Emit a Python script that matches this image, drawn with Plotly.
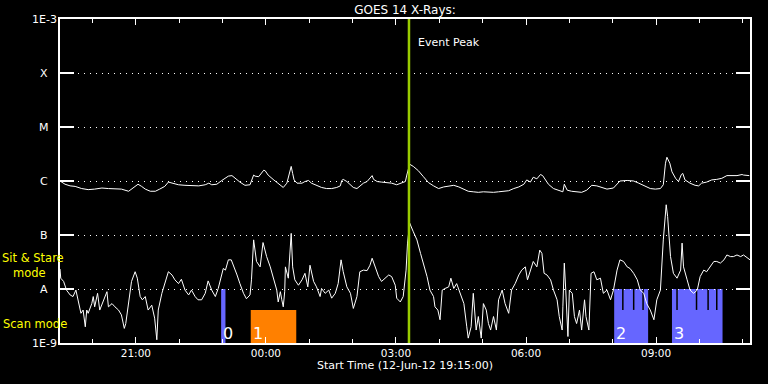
import numpy as np
import pandas as pd
import plotly.graph_objects as go

# ---------------- data ----------------
start_time = "2012-06-12 19:15"
end_time = "2012-06-13 11:10"
event_peak = "2012-06-13 03:18"

# GOES long channel (1-8 A): minutes after start, log10 flux
long_minutes = [0, 7, 14, 21, 30, 39, 48, 58, 67, 76, 85, 95, 100, 103, 108, 113, 118, 125, 132, 138,
                145, 150, 155, 164, 173, 182, 192, 201, 206, 210, 217, 224, 228, 233, 238, 242, 249, 256,
                263, 268, 270, 275, 278, 282, 284, 288, 295, 302, 309, 314, 316, 318, 320, 322, 324, 328,
                335, 339, 344, 348, 355, 362, 369, 376, 383, 388, 390, 392, 397, 402, 406, 411, 415, 420,
                425, 429, 432, 434, 439, 445, 452, 459, 466, 473, 478, 480, 482, 484, 489, 496, 503, 510,
                517, 524, 531, 538, 545, 552, 558, 565, 572, 579, 586, 593, 600, 607, 614, 621, 628, 635,
                642, 646, 651, 655, 660, 665, 668, 672, 676, 683, 690, 696, 698, 702, 708, 715, 722, 729,
                736, 743, 750, 757, 766, 773, 775, 785, 794, 801, 808, 817, 824, 831, 835, 838, 840, 844,
                847, 852, 856, 860, 862, 865, 872, 879, 884, 888, 895, 902, 909, 916, 923, 930, 937, 944,
                946, 954]
long_logflux = [-6.00, -6.06, -6.09, -6.10, -6.14, -6.16, -6.15, -6.13, -6.14, -6.14, -6.15, -6.19, -6.14,
                -6.12, -6.06, -6.10, -6.15, -6.19, -6.19, -6.15, -6.10, -6.02, -6.04, -6.07, -6.08, -6.09,
                -6.09, -6.07, -6.04, -6.07, -6.06, -5.99, -5.96, -5.91, -5.90, -5.95, -6.02, -6.08, -6.07,
                -5.89, -5.91, -5.92, -5.86, -5.80, -5.81, -5.89, -5.97, -6.04, -6.12, -6.04, -5.95, -5.86,
                -5.73, -5.86, -5.98, -6.04, -6.04, -6.01, -5.99, -6.04, -6.08, -6.12, -6.14, -6.14, -6.12,
                -6.09, -5.99, -5.97, -6.01, -6.07, -6.12, -6.14, -6.10, -6.04, -6.01, -5.95, -5.90, -5.97,
                -6.01, -6.02, -6.03, -6.04, -6.07, -6.04, -6.01, -5.89, -5.81, -5.69, -5.73, -5.81, -5.92,
                -6.03, -6.09, -6.14, -6.11, -6.09, -6.08, -6.11, -6.15, -6.19, -6.20, -6.21, -6.20, -6.21,
                -6.21, -6.20, -6.19, -6.18, -6.14, -6.11, -6.06, -5.98, -6.02, -5.93, -5.96, -5.88, -5.90,
                -5.98, -6.06, -6.14, -6.18, -6.20, -6.06, -6.17, -6.19, -6.20, -6.21, -6.17, -6.08, -6.09,
                -6.12, -6.15, -6.13, -6.04, -6.00, -5.99, -6.00, -6.04, -6.09, -6.14, -6.15, -6.14, -6.07,
                -5.67, -5.56, -5.67, -5.83, -5.95, -6.01, -5.88, -5.86, -5.98, -6.04, -6.08, -6.09, -6.04,
                -6.02, -5.98, -5.97, -5.95, -5.90, -5.90, -5.90, -5.88, -5.89, -5.90]

# GOES short channel (0.5-4 A): minutes after start, log10 flux
short_minutes = [0, 1, 5, 9, 14, 18, 22, 25, 29, 32, 35, 37, 39, 44, 46, 48, 52, 55, 60, 65, 67, 72, 76,
                 81, 85, 89, 91, 95, 99, 104, 107, 111, 114, 118, 122, 127, 131, 134, 136, 141, 145, 150,
                 155, 159, 164, 168, 173, 178, 182, 187, 191, 196, 201, 205, 210, 215, 219, 223, 226, 229,
                 233, 237, 240, 245, 249, 254, 258, 263, 265, 268, 272, 277, 281, 286, 291, 295, 300, 302,
                 305, 307, 309, 311, 312, 316, 318, 320, 322, 325, 330, 335, 339, 343, 346, 351, 355, 360,
                 362, 367, 372, 376, 381, 385, 389, 392, 397, 402, 406, 411, 415, 420, 425, 429, 432, 436,
                 441, 445, 450, 455, 459, 464, 466, 471, 475, 479, 481, 484, 489, 494, 499, 503, 508, 512,
                 517, 519, 523, 526, 529, 533, 538, 541, 545, 549, 554, 559, 563, 565, 569, 572, 576, 579,
                 583, 586, 590, 593, 596, 600, 604, 607, 612, 616, 621, 625, 630, 635, 639, 644, 647, 651,
                 655, 660, 664, 667, 670, 674, 679, 683, 688, 691, 695, 696, 698, 700, 703, 705, 709, 712,
                 715, 719, 722, 726, 728, 732, 735, 739, 743, 748, 752, 757, 762, 766, 771, 775, 780, 785,
                 789, 794, 799, 803, 808, 812, 817, 822, 826, 831, 835, 839, 841, 845, 849, 854, 859, 861,
                 863, 868, 872, 877, 882, 886, 891, 895, 900, 905, 909, 914, 919, 923, 928, 932, 937, 942,
                 946, 951, 955]
short_logflux = [-7.63, -7.80, -7.86, -8.02, -8.11, -8.14, -8.02, -8.20, -8.45, -8.39, -8.70, -8.39, -8.45,
                 -8.27, -8.14, -8.33, -8.08, -8.39, -8.20, -8.05, -8.33, -8.27, -8.33, -8.39, -8.48, -8.73,
                 -8.64, -8.20, -7.86, -7.68, -7.80, -8.14, -8.20, -8.14, -8.39, -8.30, -8.54, -8.94, -8.39,
                 -8.08, -7.90, -7.68, -7.74, -7.83, -7.90, -7.82, -8.02, -8.11, -8.02, -8.14, -8.20, -8.20,
                 -8.08, -7.85, -8.02, -8.14, -7.99, -7.77, -7.62, -7.65, -7.46, -7.46, -7.56, -7.74, -7.90,
                 -8.08, -8.18, -8.11, -7.83, -7.09, -7.49, -7.59, -7.14, -7.40, -7.59, -7.80, -8.02, -8.24,
                 -8.05, -8.20, -8.33, -8.05, -7.59, -7.80, -7.28, -6.97, -7.59, -7.83, -7.93, -7.83, -7.71,
                 -7.96, -7.56, -7.86, -7.96, -8.14, -7.99, -8.08, -8.02, -8.17, -8.08, -7.90, -7.46, -7.68,
                 -7.96, -8.08, -8.36, -8.14, -7.68, -7.65, -7.66, -7.56, -7.43, -7.59, -7.77, -7.86, -7.80,
                 -7.74, -7.77, -7.93, -8.17, -8.24, -8.14, -7.65, -7.15, -6.78, -6.94, -7.09, -7.34, -7.52,
                 -7.77, -8.02, -8.14, -8.33, -8.39, -8.57, -8.02, -7.99, -7.96, -7.80, -7.99, -7.90, -8.08,
                 -8.27, -8.70, -8.91, -8.70, -8.08, -8.76, -8.51, -8.91, -8.27, -8.39, -8.64, -8.76, -8.51,
                 -8.76, -8.20, -8.02, -8.27, -8.45, -8.02, -7.90, -7.74, -7.65, -7.59, -7.83, -7.65, -7.49,
                 -7.59, -7.28, -7.34, -7.71, -7.74, -7.83, -8.02, -8.20, -8.51, -8.76, -8.33, -7.52, -8.02,
                 -8.88, -8.02, -8.08, -8.51, -8.64, -8.39, -8.76, -8.20, -8.51, -8.76, -7.71, -7.68, -7.83,
                 -7.80, -8.08, -8.02, -8.20, -8.02, -7.65, -7.46, -7.49, -7.59, -7.62, -7.71, -7.83, -8.02,
                 -8.08, -8.27, -8.39, -8.57, -8.20, -8.02, -7.09, -6.44, -6.66, -7.40, -7.71, -7.80, -7.65,
                 -7.15, -7.59, -7.83, -8.02, -8.08, -8.02, -7.77, -7.65, -7.68, -7.59, -7.49, -7.49, -7.52,
                 -7.46, -7.37, -7.40, -7.40, -7.37, -7.40, -7.37, -7.43, -7.46]

# observation blocks
obs_labels = ["0", "1", "2", "3"]
obs_starts = ["2012-06-12 22:58", "2012-06-12 23:39", "2012-06-13 08:02", "2012-06-13 09:22"]
obs_ends = ["2012-06-12 23:04", "2012-06-13 00:42", "2012-06-13 08:49", "2012-06-13 10:32"]
obs_modes = ["sit", "scan", "sit", "sit"]
mode_colors = {"sit": "#6666FF", "scan": "#FF8000"}
mode_tops = {"sit": 1e-8, "scan": 4.1e-9}
raster_marks = ["2012-06-13 08:14", "2012-06-13 08:29", "2012-06-13 08:42",
                "2012-06-13 09:29", "2012-06-13 09:56", "2012-06-13 10:12", "2012-06-13 10:24"]

ytick_vals = [1e-9, 1e-8, 1e-7, 1e-6, 1e-5, 1e-4, 1e-3]
ytick_text = ["1E-9", "A", "B", "C", "M", "X", "1E-3"]
y_floor = 1e-9

# ---------------- figure ----------------
t0 = pd.Timestamp(start_time)
long_t = [t0 + pd.Timedelta(minutes=m) for m in long_minutes]
short_t = [t0 + pd.Timedelta(minutes=m) for m in short_minutes]
long_f = [10 ** v for v in long_logflux]
short_f = [10 ** v for v in short_logflux]

FONT = "DejaVu Sans"
fig = go.Figure()
fig.add_trace(go.Scatter(x=long_t, y=long_f, mode="lines",
                         line=dict(color="white", width=1), showlegend=False))
fig.add_trace(go.Scatter(x=short_t, y=short_f, mode="lines",
                         line=dict(color="white", width=1), showlegend=False))

shapes = []
annotations = []
for lab, s, e, md in zip(obs_labels, obs_starts, obs_ends, obs_modes):
    shapes.append(dict(type="rect", xref="x", yref="y", x0=s, x1=e, y0=y_floor, y1=mode_tops[md],
                       fillcolor=mode_colors[md], line=dict(width=0), layer="below"))
    annotations.append(dict(x=s, y=np.log10(y_floor), xref="x", yref="y", text=lab, showarrow=False,
                            xanchor="left", yanchor="bottom", xshift=0, yshift=-2,
                            font=dict(family=FONT, size=16, color="white")))
for m in raster_marks:
    shapes.append(dict(type="line", xref="x", yref="y", x0=m, x1=m, y0=mode_tops["scan"],
                       y1=mode_tops["sit"], line=dict(color="black", width=1.5), layer="below"))

shapes.append(dict(type="line", xref="x", yref="paper", x0=event_peak, x1=event_peak, y0=0, y1=1,
                   line=dict(color="#99CC00", width=2.5), layer="above"))
annotations.append(dict(x=event_peak, y=0.926, xref="x", yref="paper", text="Event Peak",
                        showarrow=False, xanchor="left", yanchor="middle", xshift=7,
                        font=dict(family=FONT, size=11, color="white")))

for v, t in zip(ytick_vals, ytick_text):
    annotations.append(dict(x=0, y=np.log10(v), xref="paper", yref="y", text=t, showarrow=False,
                            xanchor="center", yanchor="middle", xshift=-16,
                            font=dict(family=FONT, size=11, color="white")))

annotations.append(dict(x=0, y=0.24, xref="paper", yref="paper",
                        text="Sit & Stare<br>&nbsp;&nbsp;&nbsp;mode", showarrow=False, align="left",
                        xanchor="left", yanchor="middle", xshift=-59, borderpad=0,
                        font=dict(family=FONT, size=11.5, color="#FFFF00")))
annotations.append(dict(x=0, y=0.059, xref="paper", yref="paper", text="Scan mode", showarrow=False,
                        xanchor="left", yanchor="middle", xshift=-59,
                        font=dict(family=FONT, size=11.5, color="#FFFF00")))

fig.update_layout(
    width=768, height=384,
    margin=dict(l=60, r=18, t=19, b=41),
    paper_bgcolor="black", plot_bgcolor="black",
    title=dict(text="GOES 14 X-Rays:", x=0.5, xref="paper", y=0.974, yanchor="middle",
               font=dict(family=FONT, size=12, color="white")),
    shapes=shapes, annotations=annotations,
    showlegend=False,
)
fig.update_xaxes(
    type="date", range=[start_time, end_time],
    showline=True, linecolor="white", linewidth=1.5, mirror="ticks",
    ticks="inside", ticklen=6, tickwidth=1, tickcolor="white",
    tick0="2012-06-12 21:00", dtick=3 * 3600000, tickformat="%H:%M",
    minor=dict(ticks="inside", ticklen=4, tickcolor="white", dtick=3600000, tick0="2012-06-12 21:00",
               showgrid=False),
    showgrid=False, zeroline=False,
    tickfont=dict(family=FONT, size=10.5, color="white"),
    title=dict(text="Start Time (12-Jun-12 19:15:00)", standoff=2,
               font=dict(family=FONT, size=11, color="white")),
)
fig.update_yaxes(
    type="log", range=[-9, -3],
    showline=True, linecolor="white", linewidth=1.5, mirror="ticks",
    ticks="inside", ticklen=14, tickwidth=1.5, tickcolor="white",
    tickvals=ytick_vals, showticklabels=False,
    showgrid=True, gridcolor="white", gridwidth=1, griddash="1px,5px",
    zeroline=False,
)

fig.write_html("out.html", config={"displayModeBar": False},
               post_script="document.body.style.margin='0px';document.body.style.background='black';")
